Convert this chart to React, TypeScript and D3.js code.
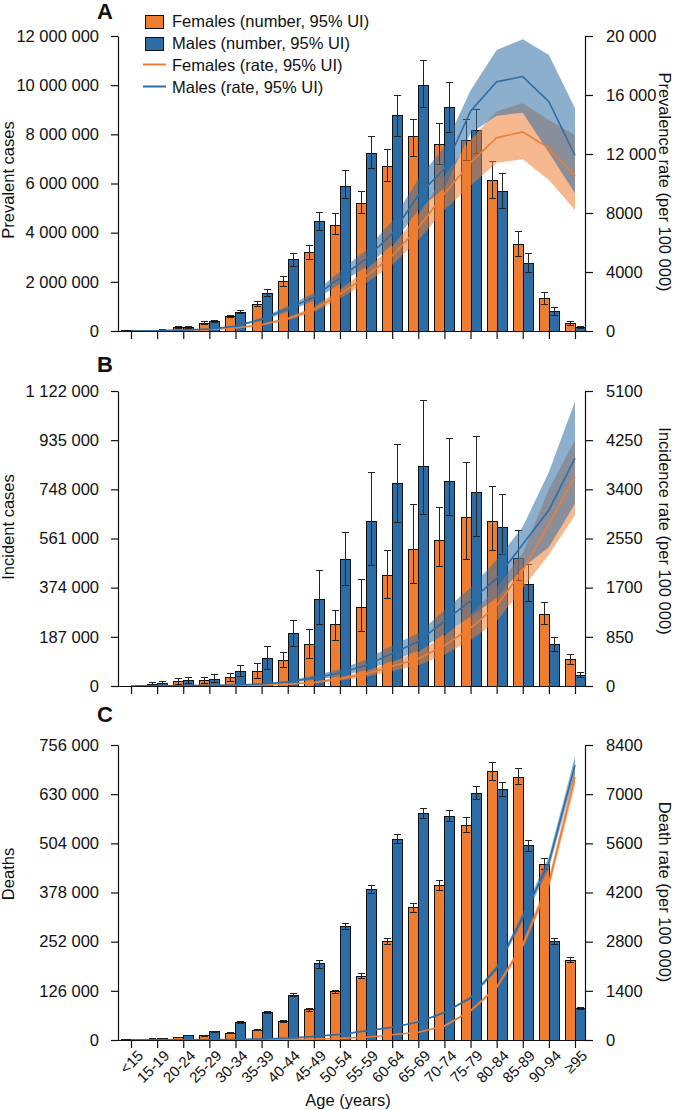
import React, { useEffect, useRef } from 'react';
import { select, scaleLinear, scalePoint, scaleBand, axisLeft, axisRight, axisBottom, area, line, format } from 'd3';

// age groups (x axis)
const ages = ['<15', '15-19', '20-24', '25-29', '30-34', '35-39', '40-44', '45-49', '50-54', '55-59', '60-64', '65-69', '70-74', '75-79', '80-84', '85-89', '90-94', '≥95'];

// A - prevalent cases (number) with 95% UI
const prevF = [3000, 30000, 140000, 320000, 590000, 1070000, 2010000, 3180000, 4310000, 5190000, 6680000, 7900000, 7600000, 7750000, 6130000, 3500000, 1320000, 310000];
const prevFLo = [2000, 20000, 110000, 280000, 530000, 980000, 1810000, 2920000, 3930000, 4770000, 6100000, 7100000, 6770000, 6940000, 5380000, 3030000, 1090000, 210000];
const prevFHi = [5000, 40000, 170000, 370000, 650000, 1200000, 2220000, 3460000, 4800000, 5690000, 7400000, 8600000, 8460000, 8600000, 6900000, 4040000, 1570000, 390000];
const prevM = [3000, 35000, 150000, 380000, 770000, 1530000, 2890000, 4440000, 5880000, 7240000, 8750000, 9990000, 9110000, 8150000, 5660000, 2740000, 780000, 140000];
const prevMLo = [2000, 25000, 120000, 330000, 700000, 1400000, 2630000, 4070000, 5370000, 6620000, 7900000, 9100000, 8090000, 7240000, 4970000, 2380000, 620000, 100000];
const prevMHi = [5000, 45000, 180000, 430000, 840000, 1670000, 3140000, 4830000, 6510000, 7900000, 9600000, 11000000, 10120000, 9000000, 6390000, 3150000, 960000, 175000];
// A - prevalence rate per 100 000
const prevRateF = [1, 15, 40, 100, 200, 420, 830, 1450, 2500, 3700, 5100, 7000, 9300, 11400, 13100, 13500, 12400, 10500];
const prevRateFLo = [0, 10, 30, 80, 165, 360, 730, 1280, 2200, 3250, 4500, 6150, 8200, 9850, 11400, 11640, 10240, 8200];
const prevRateFHi = [2, 20, 50, 120, 240, 490, 940, 1640, 2820, 4150, 5750, 7900, 10500, 12950, 14900, 15440, 14300, 13290];
const prevRateM = [2, 20, 60, 140, 320, 800, 1500, 2300, 3600, 4900, 6600, 9200, 11000, 14900, 16900, 17250, 15550, 11900];
const prevRateMLo = [1, 15, 50, 115, 270, 700, 1310, 2050, 3200, 4350, 5850, 8200, 9700, 13400, 14600, 14800, 12100, 9340];
const prevRateMHi = [3, 25, 75, 165, 370, 900, 1690, 2580, 4050, 5500, 7450, 10300, 12500, 16300, 19050, 19780, 18710, 15100];

// B - incident cases (number) with 95% UI
const incF = [0, 7000, 16000, 20000, 33000, 57000, 97700, 158600, 234700, 299300, 421000, 521000, 552700, 641600, 624900, 485700, 273800, 101500];
const incFLo = [0, 2000, 6000, 8000, 16300, 29300, 69600, 103800, 173800, 206500, 333600, 390600, 453700, 483000, 513500, 399400, 235800, 79900];
const incFHi = [0, 15000, 29000, 33000, 48300, 86300, 126700, 215600, 289000, 403200, 516100, 691100, 678200, 849300, 756900, 593300, 318300, 120600];
const incM = [0, 8000, 20000, 26600, 57000, 102700, 197800, 329700, 481800, 623800, 769400, 834100, 775900, 736700, 603600, 385300, 158600, 41800];
const incMLo = [0, 2000, 9000, 12000, 35400, 63500, 149500, 234700, 384100, 457500, 621100, 653000, 647700, 570500, 500900, 320600, 133100, 33100];
const incMHi = [0, 16000, 33000, 44500, 77200, 149500, 248400, 438500, 584600, 812800, 920400, 1084000, 942100, 948200, 727600, 464000, 185200, 52100];
// B - incidence rate per 100 000
const incRateF = [0, 2, 4, 6, 10, 18, 32, 60, 125, 210, 340, 470, 700, 1000, 1390, 2000, 2800, 3620];
const incRateFLo = [0, 1, 3, 4, 7, 13, 24, 45, 95, 160, 260, 360, 540, 790, 1120, 1690, 2270, 2950];
const incRateFHi = [0, 3, 5, 8, 13, 23, 40, 76, 155, 265, 420, 590, 870, 1230, 1700, 2300, 3400, 4250];
const incRateM = [0, 3, 5, 10, 18, 35, 70, 140, 225, 360, 560, 770, 1120, 1470, 1860, 2450, 3040, 3940];
const incRateMLo = [0, 2, 4, 7, 13, 26, 52, 105, 170, 275, 430, 610, 900, 1200, 1520, 2050, 2400, 3150];
const incRateMHi = [0, 4, 7, 13, 23, 45, 90, 180, 290, 460, 700, 910, 1310, 1700, 2180, 2750, 3700, 4920];

// C - deaths (number) with 95% UI
const deathF = [300, 2500, 6800, 10500, 17100, 25600, 47000, 76900, 123800, 164000, 252000, 339200, 396400, 550200, 688300, 673200, 451000, 205000];
const deathFLo = [200, 2200, 6200, 9700, 15900, 23900, 44500, 72800, 117900, 157100, 243500, 327300, 382700, 532200, 665200, 653500, 437400, 198100];
const deathFHi = [400, 2800, 7400, 11300, 18300, 27300, 49500, 81000, 128100, 170900, 260600, 350400, 410000, 569900, 711400, 696300, 465600, 211900];
const deathM = [300, 3500, 11100, 21300, 44400, 70000, 115300, 194800, 290400, 386100, 514300, 581000, 573300, 632200, 640700, 497200, 253700, 81200];
const deathMLo = [200, 3200, 10400, 20200, 42500, 67300, 111200, 183700, 281900, 375900, 502300, 566400, 558700, 617000, 623500, 482500, 246000, 79000];
const deathMHi = [400, 3800, 11800, 22400, 46300, 72700, 119400, 205000, 299000, 395400, 527100, 593800, 587600, 649300, 659400, 512500, 260600, 83400];
// C - death rate per 100 000
const deathRateF = [0, 1, 2, 3, 5, 10, 18, 30, 47, 80, 150, 220, 400, 830, 1500, 2700, 4450, 7480];
const deathRateFLo = [0, 1, 2, 3, 4, 9, 17, 28, 44, 75, 142, 210, 380, 795, 1440, 2600, 4290, 7250];
const deathRateFHi = [0, 1, 2, 3, 5, 11, 19, 32, 50, 85, 158, 230, 420, 865, 1560, 2800, 4610, 7710];
const deathRateM = [0, 3, 5, 8, 15, 30, 55, 100, 160, 260, 361, 510, 780, 1200, 2050, 3500, 5050, 7830];
const deathRateMLo = [0, 3, 5, 8, 14, 29, 53, 96, 154, 250, 348, 492, 752, 1160, 1980, 3380, 4880, 7580];
const deathRateMHi = [0, 3, 5, 8, 16, 31, 57, 104, 166, 270, 374, 528, 808, 1240, 2120, 3620, 5220, 8080];

// tick values
const prevTicks = [0, 2000000, 4000000, 6000000, 8000000, 10000000, 12000000];
const prevRateTicks = [0, 4000, 8000, 12000, 16000, 20000];
const incTicks = [0, 187000, 374000, 561000, 748000, 935000, 1122000];
const incRateTicks = [0, 850, 1700, 2550, 3400, 4250, 5100];
const deathTicks = [0, 126000, 252000, 378000, 504000, 630000, 756000];
const deathRateTicks = [0, 1400, 2800, 4200, 5600, 7000, 8400];

const legendItems = ['Females (number, 95% UI)', 'Males (number, 95% UI)', 'Females (rate, 95% UI)', 'Males (rate, 95% UI)'];

const FONT = '"Liberation Sans", Arial, Helvetica, sans-serif';
const ORANGE = '#ef7d31';
const BLUE = '#2d6da5';

const panels = [
  { letter: 'A', top: 36, bottom: 331, letterY: 19, leftTitle: 'Prevalent cases', leftTitleY: 180, rightTitle: 'Prevalence rate (per 100 000)', rightTitleY: 182,
    ticks: prevTicks, rateTicks: prevRateTicks,
    F: [prevF, prevFLo, prevFHi], M: [prevM, prevMLo, prevMHi], rF: [prevRateF, prevRateFLo, prevRateFHi], rM: [prevRateM, prevRateMLo, prevRateMHi] },
  { letter: 'B', top: 391, bottom: 686, letterY: 372, leftTitle: 'Incident cases', leftTitleY: 527, rightTitle: 'Incidence rate (per 100 000)', rightTitleY: 531,
    ticks: incTicks, rateTicks: incRateTicks,
    F: [incF, incFLo, incFHi], M: [incM, incMLo, incMHi], rF: [incRateF, incRateFLo, incRateFHi], rM: [incRateM, incRateMLo, incRateMHi] },
  { letter: 'C', top: 745, bottom: 1040, letterY: 722, leftTitle: 'Deaths', leftTitleY: 874, rightTitle: 'Death rate (per 100 000)', rightTitleY: 892,
    ticks: deathTicks, rateTicks: deathRateTicks,
    F: [deathF, deathFLo, deathFHi], M: [deathM, deathMLo, deathMHi], rF: [deathRateF, deathRateFLo, deathRateFHi], rM: [deathRateM, deathRateMLo, deathRateMHi] },
];

const fmt = (v: number) => (v >= 10000 ? format(',')(v).replace(/,/g, ' ') : String(v));

export default function App() {
  const ref = useRef<SVGSVGElement>(null);

  useEffect(() => {
    const svg = select(ref.current);
    svg.selectAll('*').remove();

    const left = 118;
    const right = 585;
    const x = scalePoint<string>().domain(ages).range([131, 575]);
    const sub = scaleBand<string>().domain(['F', 'M']).range([-10, 10]);

    panels.forEach((p, pi) => {
      const y = scaleLinear().domain([0, p.ticks[p.ticks.length - 1]]).range([p.bottom, p.top]);
      const yr = scaleLinear().domain([0, p.rateTicks[p.rateTicks.length - 1]]).range([p.bottom, p.top]);
      const g = svg.append('g');

      const series = [
        { key: 'F', color: ORANGE, num: p.F, rate: p.rF },
        { key: 'M', color: BLUE, num: p.M, rate: p.rM },
      ];

      // bars + error bars
      series.forEach(s => {
        const [v, lo, hi] = s.num;
        const bx = (a: string) => Math.round(x(a)!) + sub(s.key)!;
        g.append('g').selectAll('rect').data(ages).enter().append('rect')
          .attr('x', d => bx(d))
          .attr('y', (d, i) => y(v[i]))
          .attr('width', sub.bandwidth())
          .attr('height', (d, i) => p.bottom - y(v[i]))
          .attr('fill', s.color)
          .attr('stroke', '#111')
          .attr('stroke-width', 1)
          .attr('shape-rendering', 'crispEdges');

        const eb = g.append('g').attr('stroke', '#222').attr('stroke-width', 1).attr('shape-rendering', 'crispEdges');
        ages.forEach((a, i) => {
          if (hi[i] - lo[i] <= 0) return;
          const cx = bx(a) + sub.bandwidth() / 2;
          eb.append('line').attr('x1', cx).attr('x2', cx).attr('y1', y(lo[i])).attr('y2', y(hi[i]));
          eb.append('line').attr('x1', cx - 3.5).attr('x2', cx + 3.5).attr('y1', y(lo[i])).attr('y2', y(lo[i]));
          eb.append('line').attr('x1', cx - 3.5).attr('x2', cx + 3.5).attr('y1', y(hi[i])).attr('y2', y(hi[i]));
        });
      });

      // rate bands (semi-transparent) and rate lines
      series.forEach(s => {
        const [, lo, hi] = s.rate;
        const band = area<string>()
          .x(d => x(d)!)
          .y0((d, i) => yr(lo[i]))
          .y1((d, i) => yr(hi[i]));
        g.append('path').datum(ages).attr('d', band).attr('fill', s.color).attr('fill-opacity', 0.55);
      });
      series.forEach(s => {
        const [r] = s.rate;
        const ln = line<string>().x(d => x(d)!).y((d, i) => yr(r[i]));
        g.append('path').datum(ages).attr('d', ln).attr('fill', 'none').attr('stroke', s.color).attr('stroke-width', 1.6);
      });

      // axes
      const styleAxis = (sel: any) => {
        sel.attr('font-size', 16.5).attr('font-family', FONT);
        sel.selectAll('path,line').attr('stroke', '#111').attr('stroke-width', 1.2);
        sel.selectAll('text').attr('fill', '#111');
      };
      g.append('g').attr('transform', `translate(${left},0)`)
        .call(axisLeft(y).tickValues(p.ticks).tickSize(7).tickSizeOuter(0).tickPadding(12).tickFormat((d: any) => fmt(d)))
        .call(styleAxis);
      g.append('g').attr('transform', `translate(${right},0)`)
        .call(axisRight(yr).tickValues(p.rateTicks).tickSize(8).tickSizeOuter(0).tickPadding(13).tickFormat((d: any) => fmt(d)))
        .call(styleAxis);
      const xa = g.append('g').attr('transform', `translate(0,${p.bottom})`)
        .call(axisBottom(x).tickSize(8).tickSizeOuter(0).tickFormat((d: any) => (pi === 2 ? d : '')))
        .call(styleAxis);
      xa.select('.domain').remove();
      g.append('line').attr('x1', left).attr('x2', right).attr('y1', p.bottom + 0.5).attr('y2', p.bottom + 0.5)
        .attr('stroke', '#111').attr('stroke-width', 1.2);
      if (pi === 2) {
        xa.selectAll('text')
          .attr('font-size', 15)
          .attr('x', 0).attr('y', 0).attr('dy', '0.35em')
          .attr('text-anchor', 'end')
          .attr('transform', 'translate(9,13) rotate(-45)');
      }

      // titles
      g.append('text').attr('transform', `translate(14,${p.leftTitleY}) rotate(-90)`)
        .attr('text-anchor', 'middle').attr('font-family', FONT).attr('font-size', 16.5).attr('fill', '#111')
        .text(p.leftTitle);
      g.append('text').attr('transform', `translate(659,${p.rightTitleY}) rotate(90)`)
        .attr('text-anchor', 'middle').attr('font-family', FONT).attr('font-size', 16.5).attr('fill', '#111')
        .text(p.rightTitle);
      g.append('text').attr('x', 105).attr('y', p.letterY)
        .attr('text-anchor', 'middle').attr('font-family', FONT).attr('font-size', 22).attr('font-weight', 'bold').attr('fill', '#111')
        .text(p.letter);
    });

    svg.append('text').attr('x', 348).attr('y', 1106)
      .attr('text-anchor', 'middle').attr('font-family', FONT).attr('font-size', 16.5).attr('fill', '#111')
      .text('Age (years)');

    // legend
    const lg = svg.append('g').attr('font-family', FONT).attr('font-size', 16.5);
    legendItems.forEach((label, i) => {
      const by = 26.5 + i * 22;
      const color = i % 2 === 0 ? ORANGE : BLUE;
      if (i < 2) {
        lg.append('rect').attr('x', 145).attr('y', by - 11.5).attr('width', 18).attr('height', 13)
          .attr('fill', color).attr('stroke', '#111').attr('stroke-width', 1).attr('shape-rendering', 'crispEdges');
      } else {
        lg.append('line').attr('x1', 143).attr('x2', 166).attr('y1', by - 6).attr('y2', by - 6)
          .attr('stroke', color).attr('stroke-width', 2);
      }
      lg.append('text').attr('x', 172).attr('y', by).attr('fill', '#111').text(label);
    });
  }, []);

  return (
    <svg ref={ref} width={675} height={1110}
      style={{ position: 'absolute', left: 0, top: 0, display: 'block', background: '#fff' }} />
  );
}
